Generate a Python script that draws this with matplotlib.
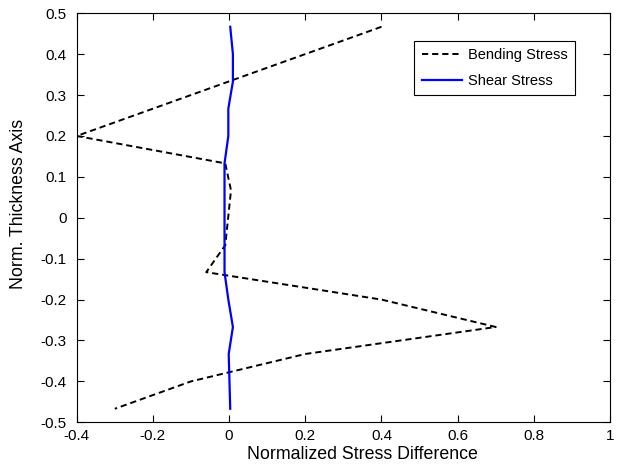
import matplotlib
matplotlib.use("Agg")
import matplotlib.pyplot as plt

# data
THICK_BEND = [0.467, 0.2, 0.133, 0.067, -0.067, -0.133, -0.2, -0.267, -0.333, -0.4, -0.467]
BENDING = [0.40, -0.40, -0.01, 0.005, -0.01, -0.06, 0.40, 0.70, 0.20, -0.10, -0.30]

THICK_SHEAR = [0.467, 0.4, 0.333, 0.267, 0.2, 0.133, 0.067, 0.0, -0.067, -0.133,
               -0.2, -0.267, -0.333, -0.4, -0.467]
SHEAR = [0.003, 0.01, 0.01, -0.002, -0.002, -0.012, -0.012, -0.012, -0.012, -0.012,
         -0.002, 0.01, -0.001, 0.001, 0.003]

X_TICKS = [-0.4, -0.2, 0, 0.2, 0.4, 0.6, 0.8, 1]
X_LABELS = ["-0.4", "-0.2", "0", "0.2", "0.4", "0.6", "0.8", "1"]
Y_TICKS = [-0.5, -0.4, -0.3, -0.2, -0.1, 0, 0.1, 0.2, 0.3, 0.4, 0.5]
Y_LABELS = ["-0.5", "-0.4", "-0.3", "-0.2", "-0.1", "0", "0.1", "0.2", "0.3", "0.4", "0.5"]

plt.rcParams["font.family"] = ["Liberation Sans", "DejaVu Sans"]

fig = plt.figure(figsize=(6.17, 4.66), dpi=100)
ax = fig.add_axes([0.1243, 0.0938, 0.8645, 0.8777])

ax.plot(BENDING, THICK_BEND, color="black", linestyle=(0, (3.2, 2)), linewidth=1.4,
        label="Bending Stress")
ax.plot(SHEAR, THICK_SHEAR, color="#0000ff", linewidth=1.6, label="Shear Stress")

ax.set_xlim(-0.4, 1)
ax.set_ylim(-0.5, 0.5)
ax.set_xticks(X_TICKS)
ax.set_xticklabels(X_LABELS)
ax.set_yticks(Y_TICKS)
ax.set_yticklabels(Y_LABELS)
ax.tick_params(direction="in", top=True, right=True, length=5, width=0.8, labelsize=11)
ax.tick_params(axis="y", pad=7)
ax.tick_params(axis="x", pad=5)
for spine in ax.spines.values():
    spine.set_linewidth(0.8)

ax.set_xlabel("Normalized Stress Difference", fontsize=12.8)
ax.set_ylabel("Norm. Thickness Axis", fontsize=12.8)
ax.xaxis.set_label_coords(0.536, -0.058)
ax.yaxis.set_label_coords(-0.093, 0.534)

leg = ax.legend(loc="upper left", bbox_to_anchor=(0.633, 0.932), borderaxespad=0,
                fontsize=10.5, fancybox=False, framealpha=1, edgecolor="black",
                handlelength=2.75, handletextpad=0.43, borderpad=0.5, labelspacing=0.78)
leg.get_frame().set_linewidth(0.8)

fig.savefig("out.png", dpi=100)
